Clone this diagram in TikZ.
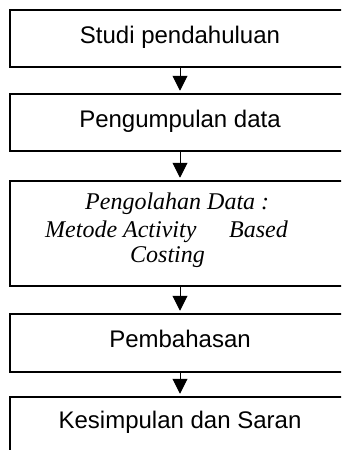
\documentclass[tikz,border=0pt]{standalone}
\usepackage{fontspec}
\setmainfont{Liberation Sans}
\newfontfamily\serifit{Liberation Serif}
\usetikzlibrary{arrows.meta}
\begin{document}
\begin{tikzpicture}[x=1pt,y=-1pt,
  stage/.style={draw, line width=1.5pt, minimum width=340pt, inner sep=0pt,
    font=\fontsize{24}{28}\selectfont, text height=14pt, text depth=5pt},
  flow/.style={-{Triangle[width=15pt,length=15pt]}, line width=1pt, shorten >=2.5pt},
  itext/.style={font=\serifit\itshape\fontsize{24}{28}\selectfont, inner sep=0pt}]
\useasboundingbox (0,0) rectangle (341,450);
\clip (0,0) rectangle (341,450);
% process stages
\node[stage, minimum height=57pt] (s1) at (180,38.5) {Studi pendahuluan};
\node[stage, minimum height=57pt] (s2) at (180,122.5) {Pengumpulan data};
\node[stage, minimum height=105pt] (s3) at (180,233.5) {};
\node[stage, minimum height=58pt] (s4) at (180,343) {Pembahasan};
\node[stage, minimum height=58pt, text depth=9pt] (s5) at (180,426) {Kesimpulan dan Saran};
% text of the processing stage
\node[itext, anchor=base west] (t3a) at (85,209) {Pengolahan Data :};
\node[itext, anchor=base west] (t3b) at (45,237) {Metode Activity};
\node[itext, anchor=base east] (t3c) at (288,237) {Based};
\node[itext, anchor=base west] (t3d) at (130,262) {Costing};
% arrows between stages
\draw[flow] (s1) -- (s2);
\draw[flow] (s2) -- (s3);
\draw[flow] (s3) -- (s4);
\draw[flow] (s4) -- (s5);
\end{tikzpicture}
\end{document}
